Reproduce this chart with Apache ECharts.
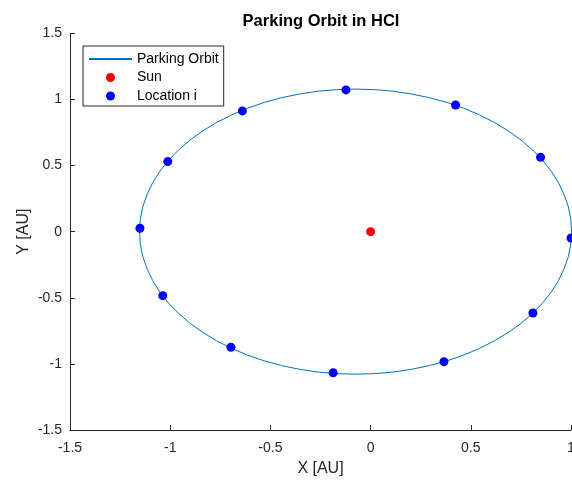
<!DOCTYPE html>
<html>
<head>
<meta charset="utf-8">
<script src="https://cdn.jsdelivr.net/npm/echarts@6/dist/echarts.min.js"></script>
<style>html,body{margin:0;padding:0;background:#fff;overflow:hidden;}#c{width:572px;height:480px;}</style>
</head>
<body>
<div id="c"></div>
<script>
// Orbit outline, AU
const orbitX = [1.003, 0.999, 0.987, 0.966, 0.938, 0.902, 0.859, 0.808, 0.751, 0.687, 0.618, 0.543, 0.464, 0.381, 0.294, 0.204, 0.112, 0.019,
  -0.075, -0.169, -0.262, -0.354, -0.444, -0.531, -0.614, -0.693, -0.768, -0.837, -0.901, -0.958, -1.009, -1.052, -1.088, -1.116, -1.137, -1.149,
  -1.153, -1.149, -1.137, -1.116, -1.088, -1.052, -1.009, -0.958, -0.901, -0.837, -0.768, -0.693, -0.614, -0.531, -0.444, -0.354, -0.262, -0.169,
  -0.075, 0.019, 0.112, 0.204, 0.294, 0.381, 0.464, 0.543, 0.618, 0.687, 0.751, 0.808, 0.859, 0.902, 0.938, 0.966, 0.987, 0.999, 1.003];
const orbitY = [0.000, 0.094, 0.187, 0.279, 0.369, 0.456, 0.539, 0.618, 0.693, 0.762, 0.826, 0.883, 0.934, 0.977, 1.013, 1.041, 1.062, 1.074,
  1.078, 1.074, 1.062, 1.041, 1.013, 0.977, 0.934, 0.883, 0.826, 0.762, 0.693, 0.618, 0.539, 0.456, 0.369, 0.279, 0.187, 0.094,
  0.000, -0.094, -0.187, -0.279, -0.369, -0.456, -0.539, -0.618, -0.693, -0.762, -0.826, -0.883, -0.934, -0.977, -1.013, -1.041, -1.062, -1.074,
  -1.078, -1.074, -1.062, -1.041, -1.013, -0.977, -0.934, -0.883, -0.826, -0.762, -0.693, -0.618, -0.539, -0.456, -0.369, -0.279, -0.187, -0.094, 0.000];
// Sun
const sunX = [0];
const sunY = [0];
// Locations i
const locX = [-0.123, 0.424, 0.848, 1.000, 0.810, 0.366, -0.187, -0.697, -1.037, -1.151, -1.012, -0.640];
const locY = [1.072, 0.958, 0.563, -0.048, -0.615, -0.983, -1.067, -0.874, -0.484, 0.026, 0.530, 0.913];
// Axis ranges
const xRange = [-1.5, 1];
const yRange = [-1.5, 1.5];
const tickStep = 0.5;

const zip = (a, b) => a.map((v, i) => [v, b[i]]);
const FONT = 'Liberation Sans, Arial, Helvetica, sans-serif';
const AX = '#262626';

const chart = echarts.init(document.getElementById('c'), null, {renderer: 'canvas', width: 572, height: 480});
const axisCommon = {
  type: 'value',
  interval: tickStep,
  splitLine: {show: false},
  axisLine: {show: true, onZero: false, lineStyle: {color: AX, width: 1}},
  axisTick: {show: true, inside: true, length: 5, lineStyle: {color: AX}},
  nameLocation: 'middle',
  nameMoveOverlap: false,
  nameTextStyle: {color: AX, fontSize: 16, fontFamily: FONT}
};
chart.setOption({
  animation: false,
  backgroundColor: '#ffffff',
  title: {
    text: 'Parking Orbit in HCI',
    left: 316,
    textAlign: 'center',
    top: 8,
    textStyle: {fontSize: 16.5, fontWeight: 'bold', color: '#000', fontFamily: FONT}
  },
  legend: {
    orient: 'vertical',
    left: 83,
    top: 46,
    padding: [6, 5, 3, 5],
    itemGap: 4.5,
    itemWidth: 43,
    itemHeight: 9,
    backgroundColor: '#fff',
    borderColor: AX,
    borderWidth: 1,
    textStyle: {fontSize: 14, color: '#000', fontFamily: FONT},
    data: [
      {name: 'Parking Orbit', itemStyle: {opacity: 0}},
      {name: 'Sun'},
      {name: 'Location i'}
    ]
  },
  grid: {left: 70, top: 33.3, width: 501, height: 396.7, containLabel: false, outerBoundsMode: 'none'},
  xAxis: Object.assign({}, axisCommon, {
    min: xRange[0], max: xRange[1],
    axisLabel: {color: AX, fontSize: 14, fontFamily: FONT, margin: 11},
    name: 'X [AU]', nameGap: 31
  }),
  yAxis: Object.assign({}, axisCommon, {
    min: yRange[0], max: yRange[1],
    axisLabel: {color: AX, fontSize: 14, fontFamily: FONT, margin: 8},
    name: 'Y [AU]', nameGap: 38
  }),
  series: [
    {
      name: 'Parking Orbit',
      type: 'line',
      data: zip(orbitX, orbitY),
      smooth: false,
      symbol: 'none',
      lineStyle: {color: '#0072BD', width: 1},
      itemStyle: {color: 'rgba(0,114,189,0)'},
      z: 1
    },
    {
      name: 'Sun',
      type: 'scatter',
      data: zip(sunX, sunY),
      symbol: 'circle',
      symbolSize: 9,
      itemStyle: {color: '#FF0000', opacity: 1},
      z: 3
    },
    {
      name: 'Location i',
      type: 'scatter',
      data: zip(locX, locY),
      symbol: 'circle',
      symbolSize: 9,
      clip: false,
      itemStyle: {color: '#0000FF', opacity: 1},
      z: 3
    }
  ]
});
</script>
</body>
</html>
